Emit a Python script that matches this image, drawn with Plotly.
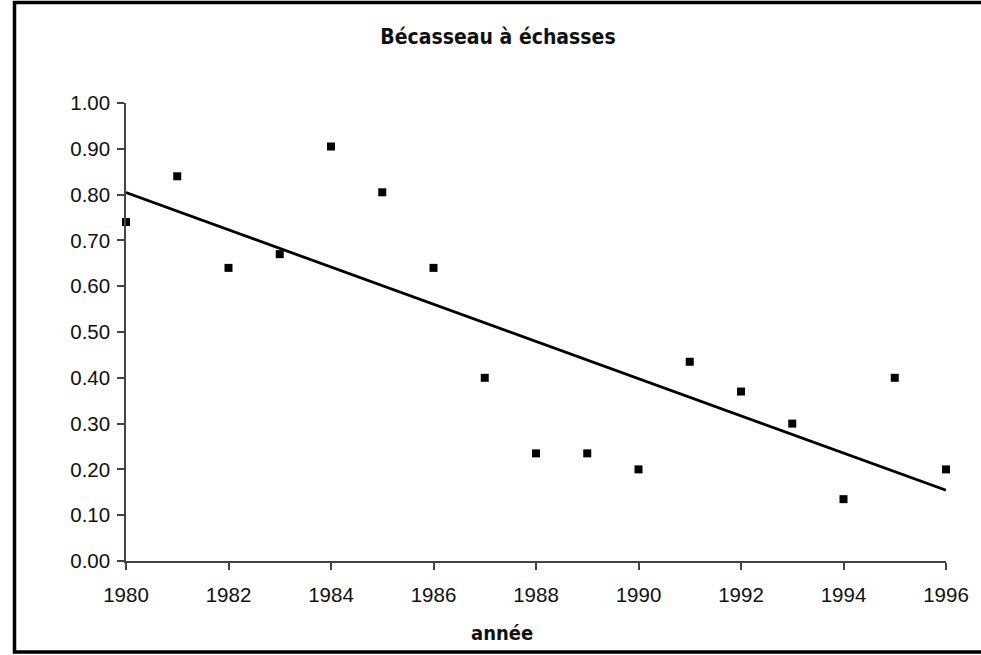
import numpy as np
import plotly.graph_objects as go

years = [1980, 1981, 1982, 1983, 1984, 1985, 1986, 1987, 1988,
         1989, 1990, 1991, 1992, 1993, 1994, 1995, 1996]
values = [0.74, 0.84, 0.64, 0.67, 0.905, 0.805, 0.64, 0.40, 0.235,
          0.235, 0.20, 0.435, 0.37, 0.30, 0.135, 0.40, 0.20]
y_ticks = [0.0, 0.1, 0.2, 0.3, 0.4, 0.5, 0.6, 0.7, 0.8, 0.9, 1.0]
x_ticks = list(range(1980, 1997, 2))
title_text = "Bécasseau à échasses"
x_title = "année"

# Linear trend (least squares) computed from the data
slope, intercept = np.polyfit(years, values, 1)
trend_x = [years[0], years[-1]]
trend_y = [slope * x + intercept for x in trend_x]

W, H = 981, 655
L, R, T, B = 126, 35, 103, 94
pw, ph = W - L - R, H - T - B

def px_to_paper_x(px):
    return (px - L) / pw

def px_to_paper_y(py):
    return (H - B - py) / ph

fig = go.Figure()
fig.add_trace(go.Scatter(x=trend_x, y=trend_y, mode="lines",
                         line=dict(color="black", width=2.8),
                         showlegend=False, hoverinfo="skip"))
fig.add_trace(go.Scatter(x=years, y=values, mode="markers",
                         marker=dict(symbol="square", size=8, color="black"),
                         cliponaxis=False, showlegend=False))

tick_font = dict(family="Liberation Sans, Arial, sans-serif", size=20.5, color="#111")
bold_font = "Liberation Sans Narrow, DejaVu Sans Condensed, Arial Narrow, sans-serif"

fig.update_layout(
    width=W, height=H,
    margin=dict(l=L, r=R, t=T, b=B),
    paper_bgcolor="white", plot_bgcolor="white",
    title=dict(text="<b>" + title_text + "</b>", xref="container", yref="container",
               x=498 / W, y=1 - 37 / H, xanchor="center", yanchor="middle",
               font=dict(family=bold_font, size=21, color="#111")),
    xaxis=dict(range=[1980, 1996], tickvals=x_ticks, ticktext=[str(t) for t in x_ticks],
               showgrid=False, zeroline=False, showline=True, linecolor="#444", linewidth=1.5,
               ticks="outside", ticklen=7, tickwidth=1.5, tickcolor="#444",
               tickfont=tick_font, ticklabelstandoff=8),
    yaxis=dict(range=[0, 1], tickvals=y_ticks, ticktext=[f"{v:.2f}" for v in y_ticks],
               showgrid=False, zeroline=False, showline=True, linecolor="#444", linewidth=1.5,
               ticks="outside", ticklen=7, tickwidth=1.5, tickcolor="#444",
               tickfont=tick_font, ticklabelstandoff=3),
    annotations=[dict(text="<b>" + x_title + "</b>", xref="paper", yref="paper",
                      x=px_to_paper_x(502), y=px_to_paper_y(633),
                      xanchor="center", yanchor="middle", showarrow=False,
                      font=dict(family=bold_font, size=20, color="#111"))],
    shapes=[dict(type="rect", xref="paper", yref="paper",
                 x0=px_to_paper_x(14.5), x1=px_to_paper_x(995),
                 y0=px_to_paper_y(652), y1=px_to_paper_y(2.5),
                 line=dict(color="black", width=3.5), fillcolor="rgba(0,0,0,0)",
                 layer="above")],
)

fig.write_html("out.html", config={"displayModeBar": False},
               post_script="document.body.style.margin='0';document.body.style.padding='0';")
